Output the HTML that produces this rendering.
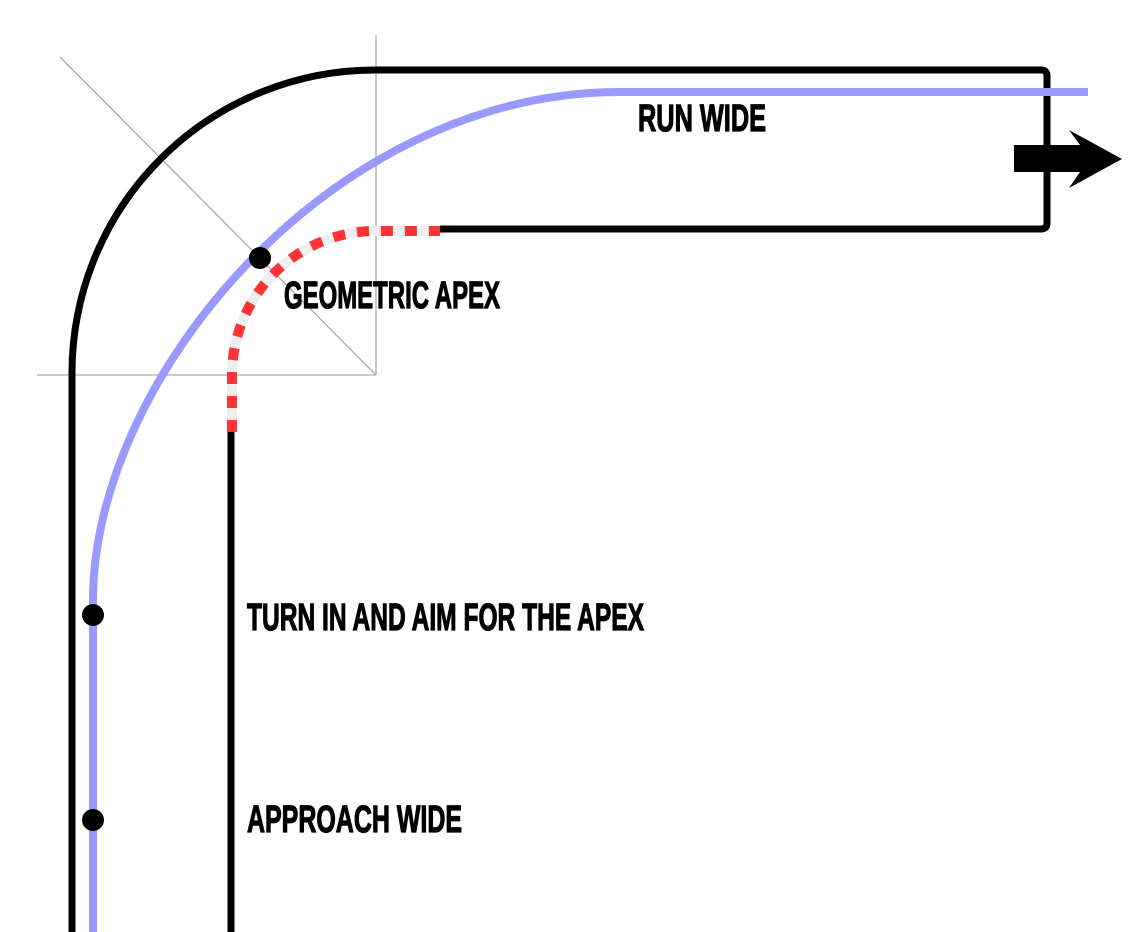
<!DOCTYPE html>
<html><head><meta charset="utf-8"><style>
html,body{margin:0;padding:0;background:#fff;}
svg{display:block;}
text{font-family:"Liberation Sans Narrow","Liberation Sans",sans-serif;font-weight:bold;font-size:38px;fill:#000;stroke:#000;stroke-width:1.2;}
</style></head><body>
<svg width="1137" height="932" viewBox="0 0 1137 932" xmlns="http://www.w3.org/2000/svg">
<g stroke="#aaa" stroke-width="1.3" fill="none">
<line x1="37" y1="375" x2="376" y2="375"/>
<line x1="376" y1="35" x2="376" y2="375"/>
<line x1="60" y1="57" x2="376" y2="375"/>
</g>
<path d="M72,932 L72,373 A303,303 0 0 1 375,70 L1041,70 Q1047,70 1047,76 L1047,223 Q1047,229 1041,229 L440,229" fill="none" stroke="#000" stroke-width="7"/>
<line x1="231" y1="932" x2="231" y2="432" stroke="#000" stroke-width="7"/>
<path d="M232,432 L232,375 A144,144 0 0 1 376,231 L440,231" fill="none" stroke="#eee" stroke-width="10"/>
<path d="M232,432 L232,375 A144,144 0 0 1 376,231 L440,231" fill="none" stroke="#f33" stroke-width="10" stroke-dasharray="12,12"/>
<path d="M93,932 L93,600 C93,380 330,92 620,92 L1088,92" fill="none" stroke="#99f" stroke-width="8"/>
<polygon points="1014,145 1080,145 1069,130 1122,159 1069,188 1080,172 1014,172" fill="#000"/>
<g fill="#000"><circle cx="260" cy="258" r="11"/><circle cx="93" cy="615" r="11"/><circle cx="93" cy="820" r="11"/></g>
<text x="638" y="131" textLength="128" lengthAdjust="spacingAndGlyphs">RUN WIDE</text>
<text x="284" y="308" textLength="216" lengthAdjust="spacingAndGlyphs">GEOMETRIC APEX</text>
<text x="247" y="630" textLength="397" lengthAdjust="spacingAndGlyphs">TURN IN AND AIM FOR THE APEX</text>
<text x="247" y="832" textLength="215" lengthAdjust="spacingAndGlyphs">APPROACH WIDE</text>
</svg>
</body></html>
